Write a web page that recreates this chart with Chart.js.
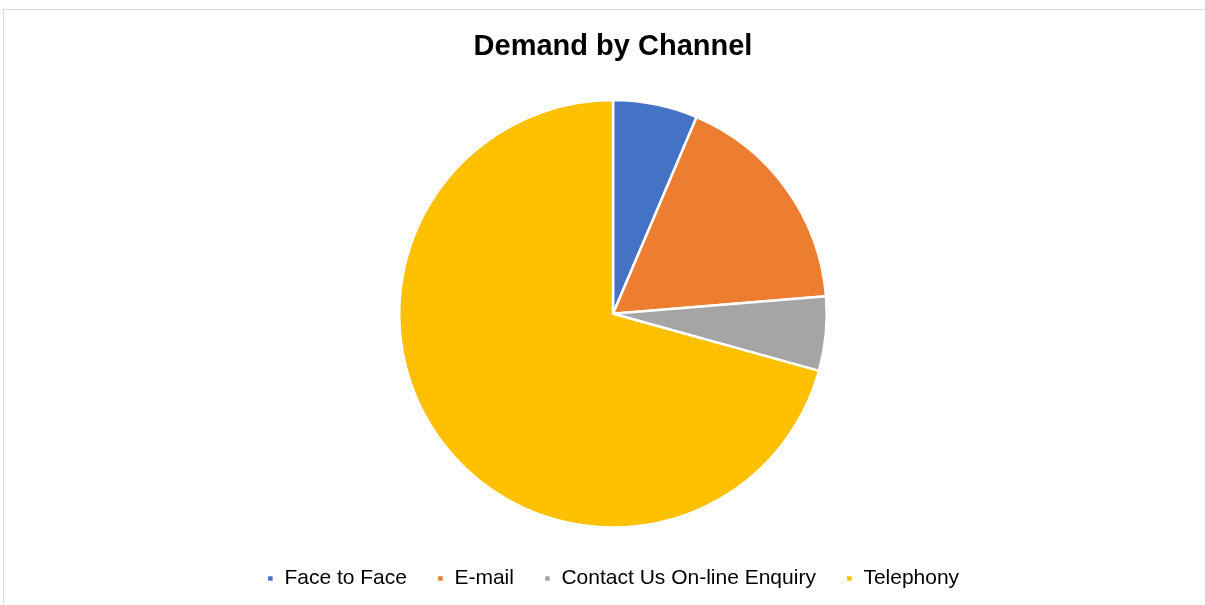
<!DOCTYPE html>
<html>
<head>
<meta charset="utf-8">
<script src="https://cdn.jsdelivr.net/npm/chart.js@4/dist/chart.umd.min.js"></script>
<style>
  html, body { margin: 0; padding: 0; background: #fff; overflow: hidden; }
  #frame { position: absolute; left: 3px; top: 9px; width: 1300px; height: 700px;
           border: 1px solid #d9d9d9; box-sizing: border-box; }
  #wrap { position: absolute; left: 0; top: 0; width: 1205px; height: 605px; }
</style>
</head>
<body>
<div id="frame"></div>
<div id="wrap"><canvas id="pie"></canvas></div>
<script>
// values (share of demand, %)
const channels = ['Face to Face', 'E-mail', 'Contact Us On-line Enquiry', 'Telephony']
const demand = [6.4, 17.3, 5.6, 70.7]
const colours = ['#4472C4', '#ED7D31', '#A5A5A5', '#FFC000']

const ctx = document.getElementById('pie')
const pie = new Chart(ctx, {
    type: 'pie',
    data: {
        labels: channels,
        datasets: [{
            data: demand,
            backgroundColor: colours,
            borderColor: '#ffffff',
            borderWidth: 2.5
        }]
    },
    options: {
        responsive: true,
        maintainAspectRatio: false,
        animation: false,
        layout: { padding: { left: 21, right: 0, top: 0, bottom: 6 } },
        plugins: {
            title: {
                display: true,
                text: 'Demand by Channel',
                color: '#000',
                font: { family: 'Liberation Sans, Arial, sans-serif', size: 29, weight: 'bold' },
                padding: { top: 30, bottom: 34 }
            },
            legend: {
                position: 'bottom',
                // empty title only used as a spacer above the legend row
                title: { display: true, text: ' ', font: { size: 1 }, padding: { top: 8, bottom: 0 } },
                labels: {
                    color: '#000',
                    font: { family: 'Liberation Sans, Arial, sans-serif', size: 21 },
                    boxWidth: 7,
                    boxHeight: 7,
                    padding: 30
                }
            },
            tooltip: { enabled: false }
        }
    }
})
</script>
</body>
</html>
